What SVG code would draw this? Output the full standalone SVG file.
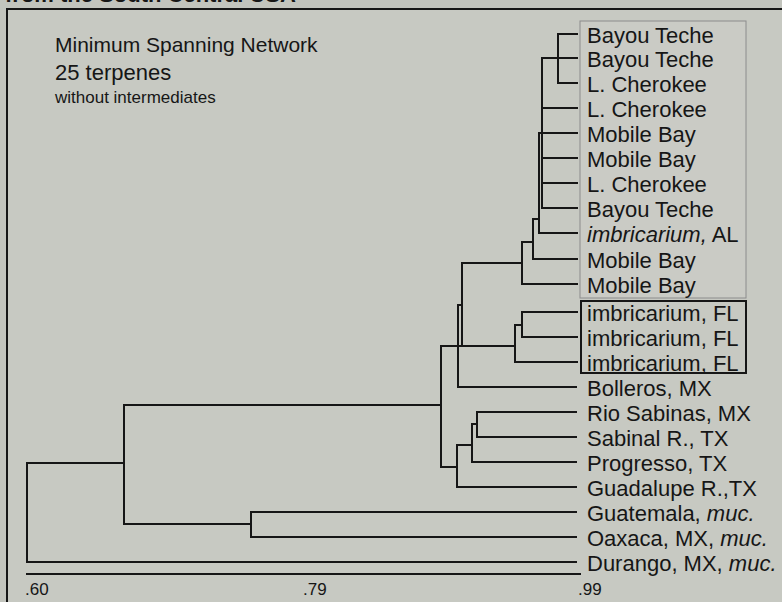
<svg xmlns="http://www.w3.org/2000/svg" width="782" height="602" viewBox="0 0 782 602">
  <style>
    .lbl { font-family: "Liberation Sans", Arial, sans-serif; font-size: 22px; fill: #161616; }
    .ttl { font-family: "Liberation Sans", Arial, sans-serif; fill: #161616; }
    .ax { font-family: "Liberation Sans", Arial, sans-serif; font-size: 17px; fill: #161616; }
    .it { font-style: italic; }
    .tree { fill: none; stroke: #161616; stroke-width: 2; stroke-linecap: square; }
  </style>
  <rect x="0" y="0" width="782" height="602" fill="#c2c4bd"/>
  <text x="5" y="2" class="ttl" font-size="22" font-weight="bold">from the South Central USA</text>
  <rect id="frame" x="7" y="9" width="800" height="700" fill="#c7c9c2" stroke="#161616" stroke-width="2"/>

  <g id="title">
    <text x="55" y="52" class="ttl" font-size="21">Minimum Spanning Network</text>
    <text x="55" y="80" class="ttl" font-size="22">25 terpenes</text>
    <text x="55" y="103" class="ttl" font-size="17">without intermediates</text>
  </g>

  <g id="group-boxes">
    <rect id="box-upper" x="580" y="21" width="166" height="277" fill="#cacbc5" stroke="#8c8c8c" stroke-width="1"/>
    <rect id="box-fl" x="581" y="301" width="165" height="72" fill="none" stroke="#161616" stroke-width="2"/>
  </g>

  <g id="connectors" class="tree">
    <path d="M558,34 H577 M558,83 H577 M558,34 V83"/>
    <path d="M542,58 H577 M542,108 H577 M542,133 H577 M542,158 H577 M542,183 H577 M542,208 H577 M542,58 V208"/>
    <path d="M539,133 H542 M539,133 V233 M539,233 H577"/>
    <path d="M533,219 H539 M533,219 V259 M533,259 H577"/>
    <path d="M522,242 H533 M522,242 V284 M522,284 H577"/>
    <path d="M462,263 H522 M462,263 V346"/>
    <path d="M522,312 H577 M522,337 H577 M522,312 V337 M515,325 H522 M515,325 V362 M515,362 H577"/>
    <path d="M441,346 H515"/>
    <path d="M458,305 H462 M458,305 V387 M458,387 H576"/>
    <path d="M441,346 V467"/>
    <path d="M477,412 H576 M477,437 H576 M477,412 V437"/>
    <path d="M472,424 H477 M472,424 V462 M472,462 H576"/>
    <path d="M457,445 H472 M457,445 V487 M457,487 H576"/>
    <path d="M441,467 H457"/>
    <path d="M124,405 H441 M124,405 V524"/>
    <path d="M251,512 H576 M251,537 H576 M251,512 V537 M124,524 H251"/>
    <path d="M27,463 H124 M27,463 V562 M27,562 H576"/>
    <path d="M27,574 H580"/>
  </g>

  <g id="leaf-01"><text x="587" y="43" class="lbl">Bayou Teche</text></g>
  <g id="leaf-02"><text x="587" y="67" class="lbl">Bayou Teche</text></g>
  <g id="leaf-03"><text x="587" y="92" class="lbl">L. Cherokee</text></g>
  <g id="leaf-04"><text x="587" y="117" class="lbl">L. Cherokee</text></g>
  <g id="leaf-05"><text x="587" y="142" class="lbl">Mobile Bay</text></g>
  <g id="leaf-06"><text x="587" y="167" class="lbl">Mobile Bay</text></g>
  <g id="leaf-07"><text x="587" y="192" class="lbl">L. Cherokee</text></g>
  <g id="leaf-08"><text x="587" y="217" class="lbl">Bayou Teche</text></g>
  <g id="leaf-09"><text x="587" y="242" class="lbl"><tspan class="it">imbricarium,</tspan> AL</text></g>
  <g id="leaf-10"><text x="587" y="268" class="lbl">Mobile Bay</text></g>
  <g id="leaf-11"><text x="587" y="293" class="lbl">Mobile Bay</text></g>
  <g id="leaf-12"><text x="587" y="321" class="lbl">imbricarium, FL</text></g>
  <g id="leaf-13"><text x="587" y="346" class="lbl">imbricarium, FL</text></g>
  <g id="leaf-14"><text x="587" y="371" class="lbl">imbricarium, FL</text></g>
  <g id="leaf-15"><text x="587" y="396" class="lbl">Bolleros, MX</text></g>
  <g id="leaf-16"><text x="587" y="421" class="lbl">Rio Sabinas, MX</text></g>
  <g id="leaf-17"><text x="587" y="446" class="lbl">Sabinal R., TX</text></g>
  <g id="leaf-18"><text x="587" y="471" class="lbl">Progresso, TX</text></g>
  <g id="leaf-19"><text x="587" y="496" class="lbl">Guadalupe R.,TX</text></g>
  <g id="leaf-20"><text x="587" y="521" class="lbl">Guatemala, <tspan class="it">muc.</tspan></text></g>
  <g id="leaf-21"><text x="587" y="546" class="lbl">Oaxaca, MX, <tspan class="it">muc.</tspan></text></g>
  <g id="leaf-22"><text x="587" y="571" class="lbl">Durango, MX, <tspan class="it">muc.</tspan></text></g>

  <g id="axis-labels">
    <text x="25" y="595" class="ax">.60</text>
    <text x="303" y="595" class="ax">.79</text>
    <text x="578" y="595" class="ax">.99</text>
  </g>
</svg>
